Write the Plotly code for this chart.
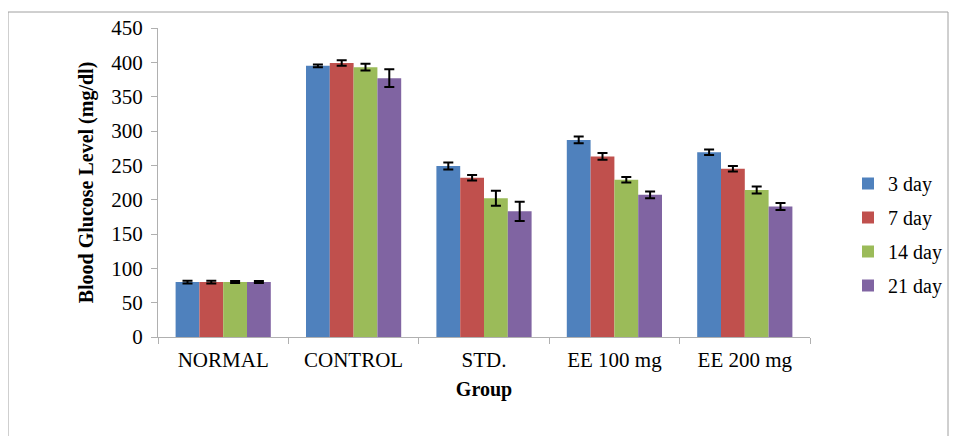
import plotly.graph_objects as go

groups = ["NORMAL", "CONTROL", "STD.", "EE 100 mg", "EE 200 mg"]
series_names = ["3 day", "7 day", "14 day", "21 day"]
day3 = [80, 395, 249, 287, 269]
day7 = [80, 399, 232, 263, 245]
day14 = [80, 393, 202, 229, 214]
day21 = [80, 377, 183, 207, 190]
err3 = [2, 2, 5, 5, 4]
err7 = [2, 4, 4, 5, 4]
err14 = [1.5, 5, 11, 4, 5]
err21 = [1.5, 13, 14, 5, 5]
y_ticks = [0, 50, 100, 150, 200, 250, 300, 350, 400, 450]

colors = ["#4F81BD", "#C0504D", "#9BBB59", "#8064A2"]
values = [day3, day7, day14, day21]
errors = [err3, err7, err14, err21]

FONT = "Liberation Serif"

fig = go.Figure()
for i, name in enumerate(series_names):
    fig.add_trace(go.Bar(
        x=groups, y=values[i], name=name,
        marker=dict(color=colors[i], line=dict(width=0)),
        error_y=dict(type="data", array=errors[i], visible=True,
                     color="black", thickness=2, width=5),
        legendgroup=name,
    ))

OFF = 8  # page body margin
W, H = 959 - 2 * OFF, 444 - 2 * OFF
# plot area in page pixels: x 158..810, y 28..337
L = 158 - OFF
T = 28 - OFF
R = W - (810 - OFF)
B = H - (337 - OFF)
pw, ph = W - L - R, H - T - B

def px_x(x):
    return (x - OFF - L) / pw

def px_y(y):
    return 1 - (y - OFF - T) / ph

fig.update_layout(
    width=W, height=H,
    margin=dict(l=L, r=R, t=T, b=B, pad=0, autoexpand=False),
    paper_bgcolor="white", plot_bgcolor="white",
    barmode="group", bargap=0.27, bargroupgap=0,
    font=dict(family=FONT, size=20, color="black"),
    showlegend=True,
    legend=dict(x=px_x(848), y=px_y(164), xanchor="left", yanchor="top",
                font=dict(family=FONT, size=20, color="black"),
                tracegroupgap=5, traceorder="grouped", bgcolor="rgba(0,0,0,0)",
                itemwidth=30),
    xaxis=dict(showline=True, linecolor="#b0b0b0", linewidth=1,
               ticks="outside", tickson="boundaries", ticklen=6, tickcolor="#b0b0b0",
               tickfont=dict(family=FONT, size=21), ticklabelstandoff=4,
               title=dict(text="<b>Group</b>", font=dict(family=FONT, size=20), standoff=10)),
    yaxis=dict(range=[0, 450], tickvals=y_ticks, showline=True, linecolor="#b0b0b0", linewidth=1,
               ticks="outside", ticklen=6, tickcolor="#b0b0b0", showgrid=False, zeroline=False,
               tickfont=dict(family=FONT, size=21), ticklabelstandoff=4,
               title=dict(text="<b>Blood Glucose Level (mg/dl)</b>", font=dict(family=FONT, size=20),
                          standoff=12)),
    shapes=[dict(type="rect", xref="paper", yref="paper",
                 x0=px_x(8), x1=px_x(948),
                 y0=px_y(480), y1=px_y(12),
                 line=dict(color="#a0a0a0", width=1), fillcolor="rgba(0,0,0,0)", layer="below")],
)

fig.write_html("out.html")
